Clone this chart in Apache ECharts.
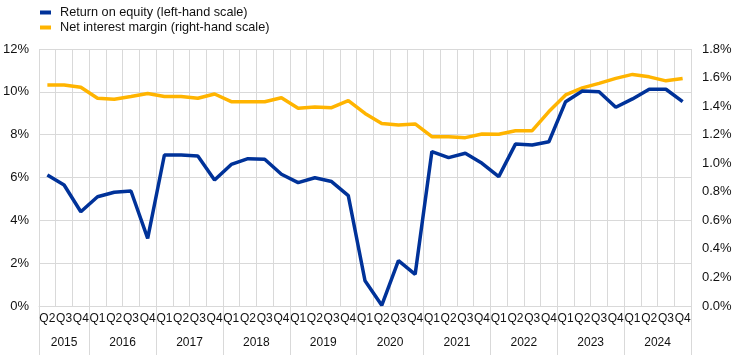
<!DOCTYPE html>
<html>
<head>
<meta charset="utf-8">
<script src="https://cdn.jsdelivr.net/npm/echarts@6/dist/echarts.min.js"></script>
<style>html,body{margin:0;padding:0;background:#fff}#c{width:744px;height:355px}</style>
</head>
<body>
<div id="c"></div>
<script>
var quarters = ['Q2','Q3','Q4',
  'Q1','Q2','Q3','Q4','Q1','Q2','Q3','Q4','Q1','Q2','Q3','Q4',
  'Q1','Q2','Q3','Q4','Q1','Q2','Q3','Q4','Q1','Q2','Q3','Q4',
  'Q1','Q2','Q3','Q4','Q1','Q2','Q3','Q4','Q1','Q2','Q3','Q4'];
var years = ['2015','2016','2017','2018','2019','2020','2021','2022','2023','2024'];
var quartersPerYear = [3,4,4,4,4,4,4,4,4,4];
var roe = [6.12,5.65,4.40,5.10,5.31,5.37,3.16,7.05,7.05,7.00,5.88,6.61,6.88,6.85,6.15,5.76,5.99,5.81,5.15,1.18,0.03,2.12,1.48,7.21,6.93,7.13,6.66,6.04,7.56,7.52,7.67,9.54,10.04,10.00,9.28,9.67,10.12,10.12,9.54];
var nim = [1.548,1.548,1.532,1.455,1.448,1.467,1.488,1.467,1.467,1.455,1.485,1.431,1.431,1.431,1.459,1.385,1.394,1.389,1.438,1.349,1.279,1.268,1.275,1.186,1.186,1.179,1.205,1.203,1.228,1.228,1.362,1.478,1.528,1.559,1.594,1.622,1.605,1.577,1.594];
var leftTicks = {min:0, max:12, interval:2};
var rightTicks = {min:0, max:1.8, interval:0.2};

// build year axis in half-quarter units
var yearCats = [], yearBounds = {}, pos = 0;
var total = quarters.length * 2;
for (var k = 0; k <= total; k++) yearCats.push('');
yearBounds[0] = true;
for (var i = 0; i < years.length; i++) {
  var w = quartersPerYear[i] * 2;
  yearCats[pos + w / 2] = years[i];
  pos += w;
  yearBounds[pos] = true;
}

var font = 'Liberation Sans, Arial, sans-serif';
var txt = '#111';
var chart = echarts.init(document.getElementById('c'));
chart.setOption({
  animation: false,
  textStyle: {fontFamily: font},
  legend: {
    left: 35, top: 1, orient: 'vertical', itemGap: 2,
    icon: 'rect', itemWidth: 11, itemHeight: 4,
    textStyle: {fontFamily: font, fontSize: 12.7, color: txt, padding: [0,0,0,4]},
    data: ['Return on equity (left-hand scale)', 'Net interest margin (right-hand scale)']
  },
  grid: {left: 38, right: 53, top: 49, bottom: 49, containLabel: false},
  xAxis: [{
    type: 'category', data: quarters, boundaryGap: true,
    axisLine: {show: true, lineStyle: {color: '#d9d9d9'}},
    axisTick: {show: false},
    splitLine: {show: true, interval: 0, lineStyle: {color: '#d9d9d9', width: 1}},
    axisLabel: {interval: 0, margin: 7, fontSize: 12, color: txt, fontFamily: font}
  }, {
    type: 'category', data: yearCats, boundaryGap: false, position: 'bottom',
    axisLine: {show: false},
    axisTick: {show: true, length: 49, interval: function (idx) { return !!yearBounds[idx]; }, lineStyle: {color: '#d9d9d9'}},
    splitLine: {show: false},
    axisLabel: {interval: 0, margin: 31, fontSize: 12, color: txt, fontFamily: font}
  }],
  yAxis: [{
    type: 'value', min: leftTicks.min, max: leftTicks.max, interval: leftTicks.interval,
    axisLine: {show: false}, axisTick: {show: false},
    splitLine: {show: true, lineStyle: {color: '#d9d9d9'}},
    axisLabel: {margin: 10, fontSize: 13, color: txt, fontFamily: font, formatter: function (v) { return v + '%'; }}
  }, {
    type: 'value', min: rightTicks.min, max: rightTicks.max, interval: rightTicks.interval,
    axisLine: {show: false}, axisTick: {show: false}, splitLine: {show: false},
    axisLabel: {margin: 11, fontSize: 13, color: txt, fontFamily: font, formatter: function (v) { return v.toFixed(1) + '%'; }}
  }],
  series: [{
    name: 'Return on equity (left-hand scale)', type: 'line', data: roe,
    xAxisIndex: 0, yAxisIndex: 0, showSymbol: false, symbol: 'none',
    lineStyle: {color: '#003299', width: 3.5}, itemStyle: {color: '#003299'}, z: 3
  }, {
    name: 'Net interest margin (right-hand scale)', type: 'line', data: nim,
    xAxisIndex: 0, yAxisIndex: 1, showSymbol: false, symbol: 'none',
    lineStyle: {color: '#ffb400', width: 3.5}, itemStyle: {color: '#ffb400'}, z: 2
  }]
});
</script>
</body>
</html>
